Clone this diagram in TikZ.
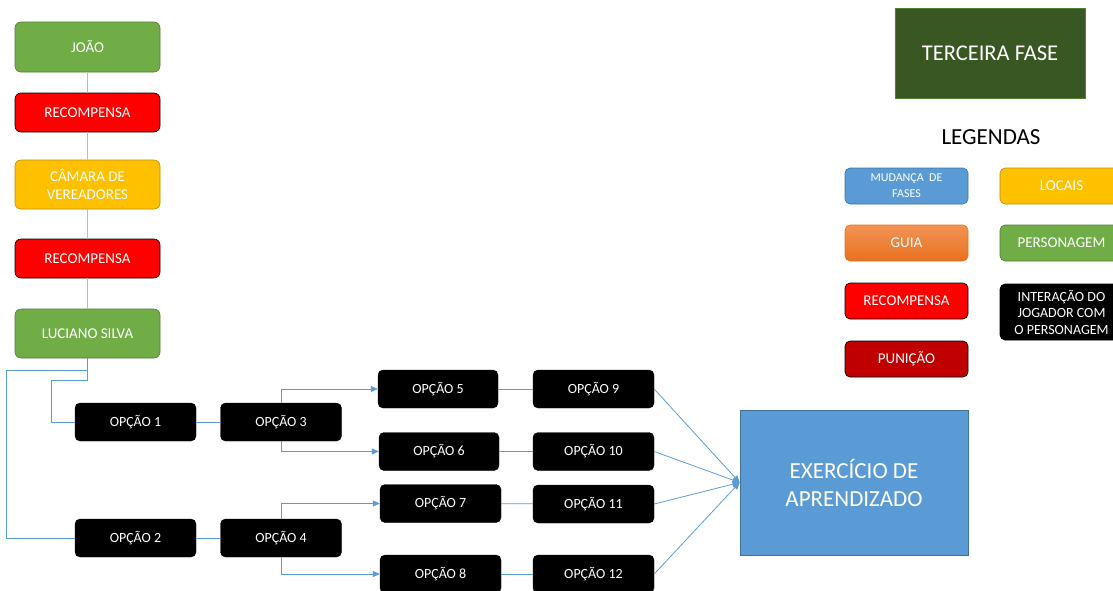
\documentclass[tikz,border=0pt]{standalone}
\usepackage{fontspec}
\setmainfont{Carlito}
\usetikzlibrary{arrows.meta}

\definecolor{grn}{HTML}{70AD47}
\definecolor{grnd}{HTML}{507E32}
\definecolor{yel}{HTML}{FFC000}
\definecolor{yeld}{HTML}{BC8C00}
\definecolor{rd}{HTML}{FF0000}
\definecolor{drd}{HTML}{C00000}
\definecolor{blu}{HTML}{5B9BD5}
\definecolor{blud}{HTML}{41719C}
\definecolor{fasegreen}{HTML}{385723}
\definecolor{linkblue}{HTML}{5B9BD5}
\definecolor{linklight}{HTML}{9DC3E6}
\definecolor{orgtop}{HTML}{F39455}
\definecolor{orgbot}{HTML}{E8711F}

\tikzset{
  box/.style={rounded corners=6pt, minimum width=145pt, inner sep=0pt,
    text=white, align=center, line width=0.6pt,
    font=\fontsize{15}{18}\selectfont},
  optbox/.style={fill=black, draw=black, rounded corners=5pt, minimum width=121pt,
    minimum height=38pt, inner sep=0pt, text=white,
    font=\fontsize{14}{15}\selectfont},
  legbox/.style={rounded corners=5pt, minimum width=123pt, minimum height=36pt,
    inner sep=0pt, text=white, align=center, line width=0.6pt,
    font=\fontsize{15}{16.5}\selectfont},
  link/.style={draw=linkblue, line width=0.8pt},
  collink/.style={draw=linklight, line width=1pt},
  arr/.style={link, -{Triangle[length=7pt,width=6pt]}}
}

\begin{document}
\begin{tikzpicture}[x=1pt,y=-1pt]
\useasboundingbox (0,0) rectangle (1113,590);

% main column
\node[box, fill=grn, draw=grnd, minimum height=50pt] (joao) at (87.5,47) {JOÃO};
\node[box, fill=rd, draw=black, minimum height=39pt] (rec1) at (87.5,112.5) {RECOMPENSA};
\node[box, fill=yel, draw=yeld, minimum height=49pt] (camara) at (87.5,184.5) {CÂMARA DE\\VEREADORES};
\node[box, fill=rd, draw=black, minimum height=39pt] (rec2) at (87.5,258.5) {RECOMPENSA};
\node[box, fill=grn, draw=grnd, minimum height=49pt] (luciano) at (87.5,333.5) {LUCIANO SILVA};

\draw[collink] (joao) -- (rec1);
\draw[collink] (rec1) -- (camara);
\draw[collink] (camara) -- (rec2);
\draw[collink] (rec2) -- (luciano);

% player options
\node[optbox] (op1) at (135.5,422) {OPÇÃO 1};
\node[optbox] (op3) at (281,422) {OPÇÃO 3};
\node[optbox] (op2) at (135.5,538) {OPÇÃO 2};
\node[optbox] (op4) at (281,538) {OPÇÃO 4};
\node[optbox, minimum width=120pt] (op5) at (438,389) {OPÇÃO 5};
\node[optbox] (op9) at (593.5,389) {OPÇÃO 9};
\node[optbox, minimum width=120pt] (op6) at (439,451.5) {OPÇÃO 6};
\node[optbox] (op10) at (593.5,451.5) {OPÇÃO 10};
\node[optbox] (op7) at (440.5,503.5) {OPÇÃO 7};
\node[optbox] (op11) at (593.5,504) {OPÇÃO 11};
\node[optbox] (op8) at (440.5,574) {OPÇÃO 8};
\node[optbox] (op12) at (593.5,574) {OPÇÃO 12};

\draw[link] (luciano.south) -- ++(0,22) -| ([xshift=-23pt]op1.west) -- (op1.west);
\draw[link] (luciano.south) -- ++(0,12) -| ([xshift=-68pt]op2.west) -- (op2.west);
\draw[link] (op1) -- (op3);
\draw[link] (op2) -- (op4);
\draw[arr] (op3.north) |- (op5.west);
\draw[arr] (op3.south) |- (op6.west);
\draw[arr] (op4.north) |- (op7.west);
\draw[arr] (op4.south) |- (op8.west);
\draw[link] (op5) -- (op9);
\draw[link] (op6) -- (op10);
\draw[link] (op7) -- (op11);
\draw[link] (op8) -- (op12);

% exercise
\node[fill=blu, draw=blud, line width=0.8pt, minimum width=228pt, minimum height=145pt,
  inner sep=0pt, text=white, align=center, font=\fontsize{23}{28}\selectfont]
  (exerc) at (854,482.5) {EXERCÍCIO DE\\APRENDIZADO};

\draw[arr] (op9.east) -- (exerc.west);
\draw[arr] (op10.east) -- (exerc.west);
\draw[arr] (op11.east) -- (exerc.west);
\draw[arr] (op12.east) -- (exerc.west);

% phase title and legend
\node[fill=fasegreen, draw=grnd, minimum width=190pt, minimum height=90pt, inner sep=0pt,
  text=white, font=\fontsize{22.5}{24}\selectfont] (fase) at (990,53) {TERCEIRA FASE};
\node[font=\fontsize{23}{24}\selectfont] (legendas) at (991,137) {LEGENDAS};

\node[legbox, fill=blu, draw=blud, font=\fontsize{12}{16}\selectfont] (lmud) at (906.5,186) {MUDANÇA~ DE\\FASES};
\node[legbox, fill=yel, draw=yeld] (lloc) at (1061.5,186) {LOCAIS};
\node[legbox, top color=orgtop, bottom color=orgbot, draw=orgbot] (lguia) at (906.5,243) {GUIA};
\node[legbox, fill=grn, draw=grnd] (lpers) at (1061.5,243) {PERSONAGEM};
\node[legbox, fill=rd, draw=black] (lrec) at (906.5,301) {RECOMPENSA};
\node[legbox, fill=black, draw=black, minimum height=56pt, font=\fontsize{14}{16.5}\selectfont]
  (linter) at (1061.5,312) {INTERAÇÃO DO\\JOGADOR COM\\O PERSONAGEM};
\node[legbox, fill=drd, draw=black] (lpun) at (906.5,359) {PUNIÇÃO};
\end{tikzpicture}
\end{document}
